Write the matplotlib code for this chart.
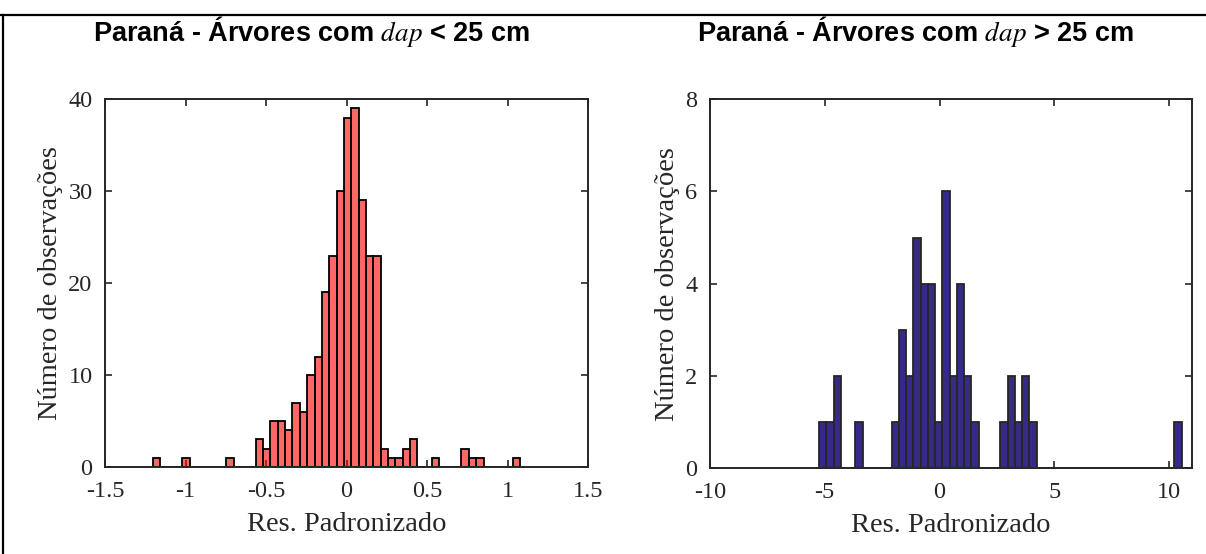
import numpy as np
import matplotlib
matplotlib.use("Agg")
import matplotlib.pyplot as plt
from matplotlib.lines import Line2D

plt.rcParams["font.family"] = ["Liberation Serif", "DejaVu Serif"]
plt.rcParams["mathtext.fontset"] = "stix"
plt.rcParams["axes.unicode_minus"] = False

# ── Data ──────────────────────────────────────────────────────────────────────
# dap < 25 cm : 50 bins between the residual min and max
small_range = (-1.203, 1.079)
small_counts = [1, 0, 0, 0, 1, 0, 0, 0, 0, 0,
                1, 0, 0, 0, 3, 2, 5, 5, 4, 7,
                6, 10, 12, 19, 23, 30, 38, 39, 29, 23,
                23, 2, 1, 1, 2, 3, 0, 0, 1, 0,
                0, 0, 2, 1, 1, 0, 0, 0, 0, 1]

# dap > 25 cm : 50 bins
large_range = (-5.25, 10.55)
large_counts = [1, 1, 2, 0, 0, 1, 0, 0, 0, 0,
                1, 3, 2, 5, 4, 4, 1, 6, 2, 4,
                2, 1, 0, 0, 0, 1, 2, 1, 2, 1,
                0, 0, 0, 0, 0, 0, 0, 0, 0, 0,
                0, 0, 0, 0, 0, 0, 0, 0, 0, 1]

small_xticks = [-1.5, -1, -0.5, 0, 0.5, 1, 1.5]
small_yticks = [0, 10, 20, 30, 40]
large_xticks = [-10, -5, 0, 5, 10]
large_yticks = [0, 2, 4, 6, 8]

titles = ["Paraná - Árvores com $dap$ < 25 cm",
          "Paraná - Árvores com $dap$ > 25 cm"]
xlabel = "Res. Padronizado"
ylabel = "Número de observações"


def draw_hist(ax, rng, counts, face, edge):
    edges = np.linspace(rng[0], rng[1], len(counts) + 1)
    ax.bar(edges[:-1], counts, width=np.diff(edges), align="edge",
           facecolor=face, edgecolor=edge, linewidth=1.3, zorder=3)


fig = plt.figure(figsize=(12.06, 5.54), dpi=100)
ax1 = fig.add_axes([0.0871, 0.157, 0.4005, 0.664])
ax2 = fig.add_axes([0.5887, 0.155, 0.3997, 0.666])

draw_hist(ax1, small_range, small_counts, (1, 0, 0, 0.6), "black")
draw_hist(ax2, large_range, large_counts, "#352A87", "#262626")

for ax, xt, yt, xl, yl in [(ax1, small_xticks, small_yticks, (-1.5, 1.5), (0, 40)),
                           (ax2, large_xticks, large_yticks, (-10, 11), (0, 8))]:
    ax.set_xlim(*xl)
    ax.set_ylim(*yl)
    ax.set_xticks(xt)
    ax.set_xticklabels([f"{v:g}" for v in xt])
    ax.set_yticks(yt)
    ax.tick_params(direction="in", top=True, right=True, length=5, width=1.2,
                   color="#262626", labelsize=17.5, labelcolor="#262626")
    ax.tick_params(axis="x", pad=10)
    ax.tick_params(axis="y", pad=9)
    for s in ax.spines.values():
        s.set_linewidth(1.4)
        s.set_color("#262626")
        s.set_zorder(4)
    ax.set_xlabel(xlabel, fontsize=20.5, color="#262626", labelpad=7)
    ax.set_ylabel(ylabel, fontsize=20.5, color="#262626", labelpad=4)

# titles (bold sans, with italic math "dap")
for xc, t in zip([311.7, 915], titles):
    fig.text(xc / 1206, 1 - 41 / 554, t, ha="center", va="baseline",
             fontsize=19.5, fontweight="bold", family="Liberation Sans")

# page border (top and left)
fig.add_artist(Line2D([0, 1], [1 - 15 / 554] * 2, color="black", linewidth=1.6,
                      transform=fig.transFigure))
fig.add_artist(Line2D([3.5 / 1206] * 2, [0, 1 - 15 / 554], color="black",
                      linewidth=1.6, transform=fig.transFigure))

fig.savefig("out.png", dpi=100)
